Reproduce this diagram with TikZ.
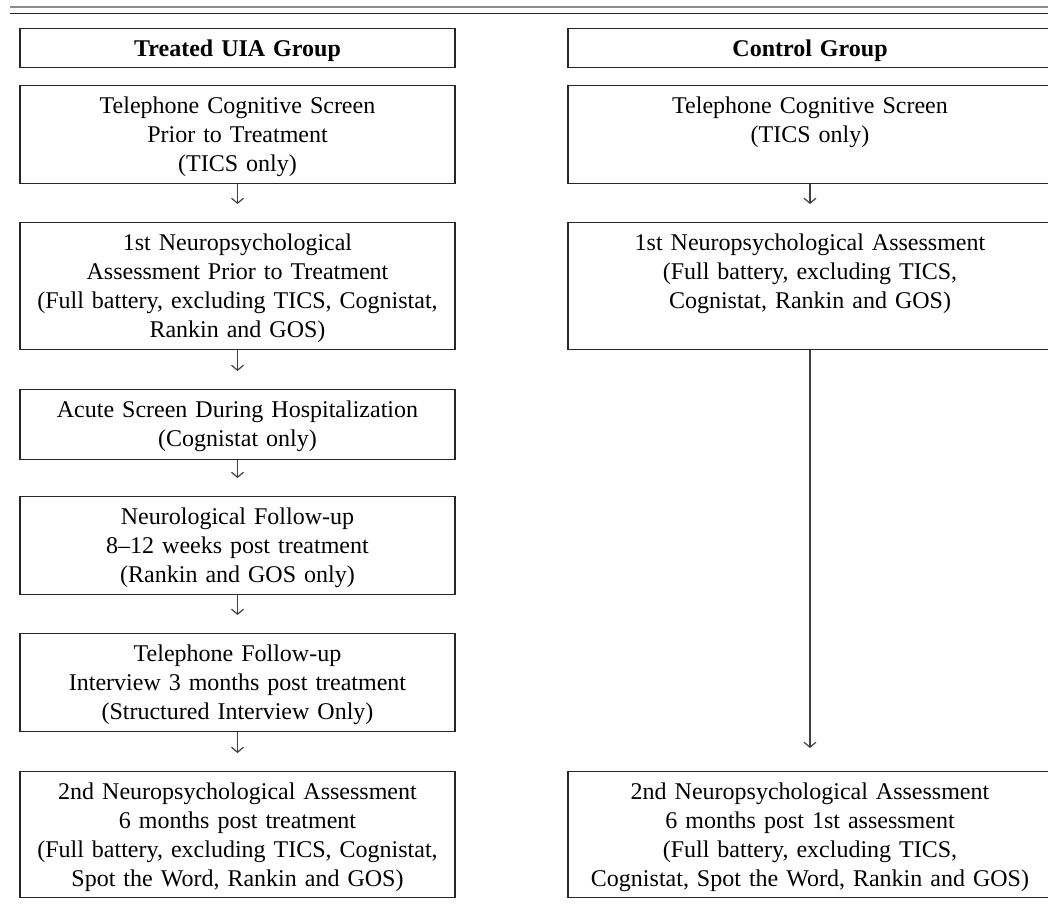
\documentclass[tikz,border=0pt]{standalone}
\usepackage{fontspec}
\setmainfont{Liberation Serif}
\usetikzlibrary{arrows.meta}

\begin{document}
\begin{tikzpicture}[x=0.5pt,y=-0.5pt,
	box/.style={draw=black!85,line width=0.6pt,align=center,anchor=north,
		inner xsep=0pt,inner ysep=0pt,text height=14pt,
		font=\fontsize{12}{14.5}\selectfont},
	lbox/.style={box,text width=217.5pt},
	rbox/.style={box,text width=242pt},
	arr/.style={draw=black!75,line width=0.6pt,-{Straight Barb[length=2.5pt,width=6pt]}}]
	\useasboundingbox (0,0) rectangle (1048,904);
	% rules at the top
	\draw[black!45,line width=1pt] (10,7.5) -- (1070,7.5);
	\draw[black!85,line width=0.6pt] (10,13.5) -- (1070,13.5);
	% treated group
	\node[lbox,text depth=5.5pt] (lhead) at (237.5,28) {\textbf{Treated UIA Group}};
	\node[lbox,text depth=35pt] (l1) at (237.5,85) {Telephone Cognitive Screen\\Prior to Treatment\\(TICS only)};
	\node[lbox,text depth=49.5pt] (l2) at (237.5,222) {1st Neuropsychological\\Assessment Prior to Treatment\\(Full battery, excluding TICS, Cognistat,\\Rankin and GOS)};
	\node[lbox,text depth=21pt] (l3) at (237.5,389) {Acute Screen During Hospitalization\\(Cognistat only)};
	\node[lbox,text depth=35pt] (l4) at (237.5,496) {Neurological Follow-up\\8--12 weeks post treatment\\(Rankin and GOS only)};
	\node[lbox,text depth=35pt] (l5) at (237.5,633) {Telephone Follow-up\\Interview 3 months post treatment\\(Structured Interview Only)};
	\node[lbox,text depth=49pt] (l6) at (237.5,771) {2nd Neuropsychological Assessment\\6 months post treatment\\(Full battery, excluding TICS, Cognistat,\\Spot the Word, Rankin and GOS)};
	% control group
	\node[rbox,text depth=5.5pt] (rhead) at (810,28) {\textbf{Control Group}};
	\node[rbox,text depth=35pt] (r1) at (810,85) {Telephone Cognitive Screen\\(TICS only)};
	\node[rbox,text depth=49.5pt] (r2) at (810,222) {1st Neuropsychological Assessment\\(Full battery, excluding TICS,\\Cognistat, Rankin and GOS)};
	\node[rbox,text depth=49pt] (r3) at (810,771) {2nd Neuropsychological Assessment\\6 months post 1st assessment\\(Full battery, excluding TICS,\\Cognistat, Spot the Word, Rankin and GOS)};
	% arrows
	\foreach \a/\b in {l1/l2,l2/l3,l3/l4,l4/l5,l5/l6,r1/r2}
		\draw[arr,shorten >=9pt] (\a) -- (\b);
	\draw[arr,shorten >=11.5pt] (r2) -- (r3);
\end{tikzpicture}
\end{document}
